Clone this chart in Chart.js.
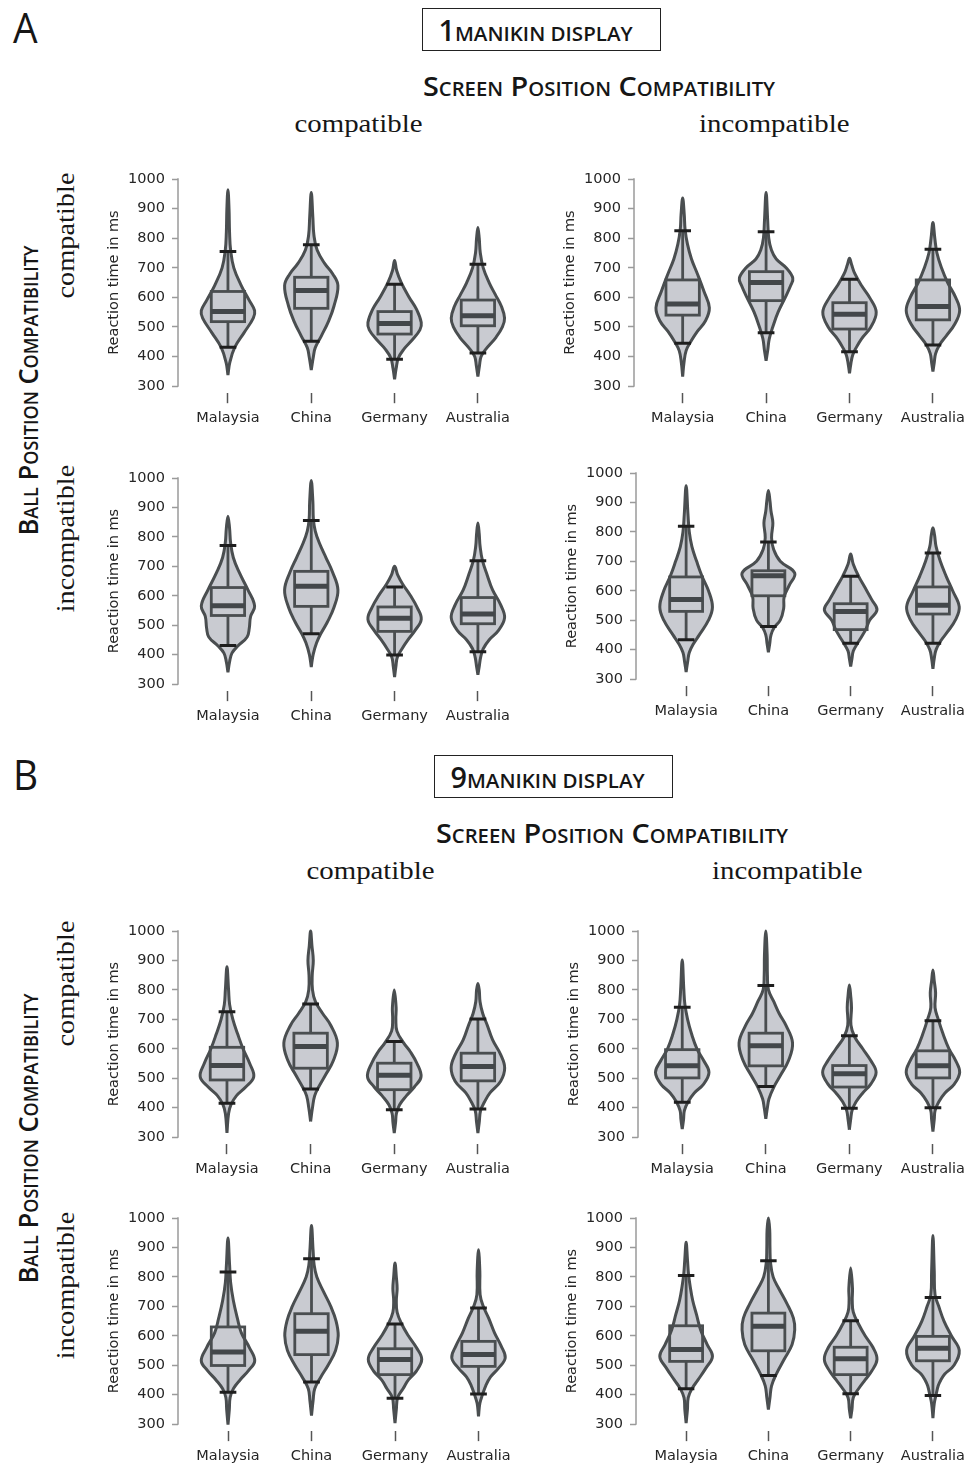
<!DOCTYPE html>
<html>
<head>
<meta charset="utf-8">
<script src="https://cdn.jsdelivr.net/npm/chart.js@4.4.1/dist/chart.umd.min.js"></script>
<style>
  html, body { margin: 0; padding: 0; background: #fff; overflow: hidden; }
  #page { position: relative; width: 973px; height: 1464px; }
  canvas { position: absolute; }
  .txt { position: absolute; white-space: nowrap; line-height: 1; color: #161616; }
  .box { position: absolute; border: 1.5px solid #222; box-sizing: border-box; }
</style>
</head>
<body>
<div id="page"></div>
<script>
// ---- data ----
const categories = ["Malaysia", "China", "Germany", "Australia"];
const yTickValues = [300, 400, 500, 600, 700, 800, 900, 1000];

// panel order: A1 A2 A3 A4 B1 B2 B3 B4 (top-left, top-right, bottom-left, bottom-right)
const whiskerHigh = [
  [755, 778, 644, 712],
  [825, 822, 661, 763],
  [771, 856, 630, 719],
  [819, 766, 649, 728],
  [726, 752, 625, 701],
  [741, 815, 644, 695],
  [817, 862, 640, 694],
  [805, 855, 651, 730]
];
const q3 = [
  [620, 668, 552, 591],
  [659, 687, 582, 659],
  [628, 683, 562, 594],
  [647, 668, 556, 613],
  [605, 653, 551, 585],
  [597, 653, 543, 593],
  [630, 675, 556, 581],
  [634, 677, 561, 598]
];
const medians = [
  [552, 623, 512, 538],
  [578, 650, 543, 569],
  [566, 632, 524, 538],
  [570, 651, 530, 551],
  [543, 608, 510, 540],
  [542, 610, 515, 542],
  [545, 615, 519, 536],
  [553, 632, 522, 558]
];
const q1 = [
  [518, 563, 476, 504],
  [540, 589, 493, 524],
  [533, 564, 479, 505],
  [530, 583, 468, 521],
  [494, 534, 461, 491],
  [501, 542, 470, 501],
  [499, 536, 468, 496],
  [513, 549, 468, 515]
];
const whiskerLow = [
  [431, 452, 391, 412],
  [445, 480, 416, 439],
  [431, 471, 399, 410],
  [434, 479, 422, 422],
  [415, 463, 393, 395],
  [418, 472, 398, 400],
  [408, 443, 388, 402],
  [420, 465, 403, 397]
];

// violin outlines: [reaction time, relative density]
const violinA1 = [
  [[337,0],[380,0.07],[430,0.25],[480,0.6],[530,0.95],[555,1],[590,0.8],[640,0.5],[700,0.22],[760,0.1],[820,0.06],[900,0.04],[964,0]],
  [[354,0],[400,0.08],[430,0.15],[470,0.38],[520,0.65],[570,0.85],[640,1],[680,0.8],[715,0.5],[760,0.22],[810,0.1],[870,0.06],[955,0]],
  [[323,0],[360,0.06],[395,0.14],[425,0.35],[455,0.65],[490,0.95],[515,1],[560,0.82],[600,0.55],[650,0.25],[690,0.08],[725,0]],
  [[332,0],[370,0.06],[400,0.12],[425,0.3],[465,0.68],[500,0.92],[530,1],[570,0.88],[610,0.65],[650,0.42],[700,0.2],[750,0.09],[800,0.05],[836,0]]
];
const violinA2 = [
  [[332,0],[380,0.05],[420,0.13],[450,0.3],[485,0.55],[520,0.85],[565,1],[620,0.8],[680,0.55],[730,0.33],[780,0.18],[830,0.09],[880,0.06],[936,0]],
  [[386,0],[420,0.06],[460,0.12],[500,0.25],[550,0.45],[600,0.72],[640,0.92],[665,1],[700,0.75],[730,0.38],[760,0.2],[800,0.1],[860,0.06],[955,0]],
  [[343,0],[375,0.05],[405,0.12],[430,0.25],[460,0.45],[500,0.8],[550,1],[600,0.75],[640,0.45],[680,0.2],[710,0.08],[732,0]],
  [[349,0],[380,0.05],[410,0.1],[440,0.25],[470,0.5],[510,0.82],[555,1],[600,0.85],[650,0.55],[700,0.32],[750,0.15],[800,0.07],[853,0]]
];
const violinA3 = [
  [[340,0],[375,0.06],[405,0.15],[430,0.38],[460,0.72],[490,0.8],[530,0.85],[565,1],[620,0.75],[680,0.42],[730,0.2],[780,0.1],[830,0.06],[870,0]],
  [[358,0],[400,0.07],[440,0.2],[470,0.35],[510,0.6],[560,0.85],[620,1],[680,0.8],[730,0.55],[780,0.3],[820,0.15],[860,0.08],[920,0.06],[992,0]],
  [[324,0],[360,0.05],[390,0.1],[420,0.28],[450,0.5],[480,0.75],[520,1],[560,0.85],[600,0.6],[640,0.3],[670,0.12],[700,0]],
  [[332,0],[360,0.05],[390,0.1],[420,0.2],[450,0.42],[480,0.75],[525,1],[570,0.85],[620,0.55],[670,0.35],[720,0.17],[770,0.08],[810,0.05],[847,0]]
];
const violinA4 = [
  [[324,0],[360,0.06],[390,0.12],[420,0.28],[450,0.5],[500,0.85],[545,1],[600,0.85],[650,0.6],[700,0.4],[750,0.22],[800,0.12],[860,0.07],[957,0]],
  [[391,0],[420,0.05],[450,0.1],[475,0.22],[500,0.45],[540,0.58],[580,0.6],[620,0.8],[660,1],[700,0.45],[740,0.2],[780,0.12],[830,0.17],[870,0.1],[905,0.06],[941,0]],
  [[343,0],[370,0.05],[395,0.1],[420,0.25],[445,0.42],[470,0.58],[500,0.72],[535,1],[570,0.8],[610,0.55],[650,0.3],[690,0.1],[725,0]],
  [[335,0],[370,0.05],[400,0.12],[430,0.3],[460,0.55],[500,0.85],[545,1],[600,0.75],[650,0.5],[700,0.28],[750,0.12],[790,0.06],[814,0]]
];
const violinB1 = [
  [[314,0],[380,0.06],[410,0.15],[440,0.35],[470,0.7],[505,1],[550,0.85],[600,0.6],[650,0.4],[700,0.22],[750,0.1],[800,0.06],[879,0]],
  [[353,0],[400,0.07],[440,0.15],[470,0.3],[510,0.55],[560,0.85],[620,1],[680,0.75],[720,0.45],[760,0.18],[800,0.07],[850,0.06],[900,0.1],[950,0.05],[1000,0]],
  [[314,0],[350,0.05],[380,0.08],[410,0.2],[440,0.45],[470,0.75],[505,1],[550,0.85],[590,0.6],[620,0.35],[660,0.1],[700,0.06],[740,0.07],[800,0]],
  [[314,0],[350,0.05],[390,0.1],[420,0.25],[450,0.45],[490,0.85],[535,1],[580,0.85],[630,0.55],[680,0.35],[720,0.18],[760,0.08],[800,0.05],[822,0]]
];
const violinB2 = [
  [[327,0],[360,0.05],[390,0.08],[420,0.22],[450,0.45],[480,0.8],[520,1],[560,0.8],[600,0.55],[650,0.35],[700,0.2],[750,0.1],[800,0.06],[902,0]],
  [[362,0],[400,0.06],[430,0.12],[470,0.3],[510,0.55],[560,0.85],[620,1],[680,0.75],[720,0.5],[760,0.3],[800,0.1],[850,0.06],[920,0.05],[1000,0]],
  [[325,0],[360,0.05],[390,0.1],[420,0.25],[450,0.5],[480,0.8],[520,1],[560,0.8],[600,0.5],[640,0.2],[680,0.06],[740,0.08],[780,0.05],[817,0]],
  [[319,0],[360,0.05],[390,0.08],[420,0.22],[450,0.45],[480,0.8],[520,1],[560,0.85],[600,0.6],[650,0.38],[700,0.2],[740,0.08],[790,0.1],[830,0.05],[868,0]]
];
const violinB3 = [
  [[298,0],[350,0.05],[390,0.08],[420,0.2],[450,0.45],[480,0.75],[515,1],[560,0.8],[610,0.5],[660,0.35],[720,0.2],[780,0.1],[840,0.06],[932,0]],
  [[329,0],[380,0.06],[420,0.12],[460,0.35],[500,0.62],[550,0.9],[600,1],[650,0.92],[700,0.72],[750,0.45],[800,0.2],[840,0.1],[890,0.06],[975,0]],
  [[303,0],[350,0.05],[390,0.1],[420,0.3],[450,0.5],[480,0.8],[520,1],[560,0.8],[600,0.5],[640,0.25],[680,0.08],[720,0.05],[760,0.08],[800,0.05],[847,0]],
  [[326,0],[370,0.05],[400,0.15],[430,0.27],[460,0.45],[490,0.75],[525,1],[565,0.85],[610,0.6],[660,0.38],[700,0.18],[740,0.06],[820,0.05],[892,0]]
];
const violinB4 = [
  [[303,0],[350,0.05],[390,0.08],[420,0.22],[450,0.45],[490,0.75],[530,1],[570,0.8],[620,0.55],[670,0.4],[720,0.25],[770,0.15],[810,0.09],[860,0.05],[918,0]],
  [[349,0],[390,0.06],[430,0.12],[470,0.3],[520,0.6],[570,0.9],[620,1],[660,0.95],[710,0.7],[760,0.4],[800,0.18],[850,0.08],[900,0.06],[960,0.05],[1000,0]],
  [[320,0],[350,0.05],[390,0.1],[420,0.3],[450,0.55],[480,0.8],[520,1],[560,0.85],[600,0.55],[640,0.3],[680,0.1],[720,0.06],[760,0.07],[830,0]],
  [[320,0],[370,0.05],[400,0.12],[430,0.2],[450,0.3],[470,0.45],[500,0.8],[550,1],[600,0.7],[650,0.42],[700,0.22],[740,0.08],[820,0.05],[941,0]]
];
const violins = [violinA1, violinA2, violinA3, violinA4, violinB1, violinB2, violinB3, violinB4];

// ---- layout (page pixels) ----
const panels = [
  { axisX: 178, y1000: 179,  y300: 386,  cat0: 228, step: 83.4 },
  { axisX: 634, y1000: 179,  y300: 386,  cat0: 683, step: 84 },
  { axisX: 178, y1000: 478,  y300: 684,  cat0: 228, step: 83.4 },
  { axisX: 636, y1000: 473,  y300: 679,  cat0: 687, step: 83.7 },
  { axisX: 178, y1000: 931,  y300: 1137, cat0: 227, step: 83.7 },
  { axisX: 638, y1000: 931,  y300: 1137, cat0: 683, step: 85 },
  { axisX: 178, y1000: 1218, y300: 1424, cat0: 228, step: 83.5 },
  { axisX: 636, y1000: 1218, y300: 1424, cat0: 687, step: 83.7 }
];

const page = document.getElementById("page");
const Y_MIN = 276;
const Y_MAX = 1024;
const HALF_VIOLIN = 0.32;
const HALF_BOX = 0.2;
const HALF_CAP = 0.1;
const STROKE = "#4a4e50";
const FILL = "#c9cbd1";
const TICK_FONT = { family: "DejaVu Sans", size: 14.5 };

function boxPlugin(p) {
  return {
    id: "boxes" + p,
    beforeDatasetsDraw(chart) {
      const { ctx, chartArea, scales: { y } } = chart;
      ctx.save();
      ctx.strokeStyle = "#9a9a9a";
      ctx.lineWidth = 1.5;
      ctx.beginPath();
      ctx.moveTo(chartArea.left, y.getPixelForValue(300) + 0.75);
      ctx.lineTo(chartArea.left, y.getPixelForValue(1000) - 0.75);
      ctx.stroke();
      ctx.restore();
    },
    afterDatasetsDraw(chart) {
      const { ctx, scales: { x, y } } = chart;
      ctx.save();
      ctx.lineCap = "butt";
      categories.forEach((c, i) => {
        const xc = x.getPixelForValue(i);
        const xl = x.getPixelForValue(i - HALF_BOX), xr = x.getPixelForValue(i + HALF_BOX);
        const yq1 = y.getPixelForValue(q1[p][i]), yq3 = y.getPixelForValue(q3[p][i]);
        const ylo = y.getPixelForValue(whiskerLow[p][i]), yhi = y.getPixelForValue(whiskerHigh[p][i]);
        ctx.strokeStyle = STROKE;
        ctx.lineWidth = 2.8;
        ctx.beginPath();
        ctx.moveTo(xc, ylo); ctx.lineTo(xc, yq1);
        ctx.moveTo(xc, yq3); ctx.lineTo(xc, yhi);
        ctx.stroke();
        ctx.strokeRect(xl, yq3, xr - xl, yq1 - yq3);
        ctx.lineWidth = 5;
        ctx.strokeStyle = "#43474a";
        const ym = y.getPixelForValue(medians[p][i]);
        ctx.beginPath();
        ctx.moveTo(xl, ym); ctx.lineTo(xr, ym);
        ctx.stroke();
        ctx.lineWidth = 3;
        ctx.strokeStyle = "#1e1e1e";
        const cl = x.getPixelForValue(i - HALF_CAP), cr = x.getPixelForValue(i + HALF_CAP);
        ctx.beginPath();
        ctx.moveTo(cl, ylo); ctx.lineTo(cr, ylo);
        ctx.moveTo(cl, yhi); ctx.lineTo(cr, yhi);
        ctx.stroke();
      });
      ctx.restore();
    }
  };
}

function makePanel(g, p) {
  const pxPerMs = (g.y300 - g.y1000) / 700;
  const chartH = (Y_MAX - Y_MIN) * pxPerMs;
  const topExtra = (Y_MAX - 1000) * pxPerMs;
  const xMin = -(g.cat0 - g.axisX) / g.step;
  const xMax = Math.min(3.45, (971 - g.cat0) / g.step);
  const chartW = (xMax - xMin) * g.step;
  // top padding must exceed the label overhang Chart.js reserves (half label height + tick padding)
  const padTop = 17, yW = 80, xH = 38;
  const W = Math.ceil(yW + chartW), H = Math.ceil(padTop + chartH + xH);

  const canvas = document.createElement("canvas");
  canvas.width = W; canvas.height = H;
  canvas.style.left = (g.axisX - yW) + "px";
  canvas.style.top = (g.y1000 - topExtra - padTop) + "px";
  canvas.style.width = W + "px"; canvas.style.height = H + "px";
  page.appendChild(canvas);

  const datasets = violins[p].map((shape, i) => {
    const right = shape.map(([v, d]) => ({ x: i + d * HALF_VIOLIN, y: v }));
    const left = shape.slice(0, -1).reverse().map(([v, d]) => ({ x: i - d * HALF_VIOLIN, y: v }));
    return {
      label: categories[i],
      data: right.concat(left),
      borderColor: STROKE,
      backgroundColor: FILL,
      borderWidth: 3,
      fill: "shape",
      tension: 0.4,
      pointRadius: 0
    };
  });

  new Chart(canvas, {
    type: "line",
    data: { datasets },
    options: {
      responsive: false,
      animation: false,
      layout: { padding: { top: padTop, left: 0, right: W - yW - chartW, bottom: H - padTop - chartH - xH } },
      plugins: { legend: { display: false }, tooltip: { enabled: false } },
      scales: {
        x: {
          type: "linear",
          min: xMin,
          max: xMax,
          afterBuildTicks: s => { s.ticks = categories.map((c, i) => ({ value: i })); },
          afterFit: s => { s.height = xH; },
          ticks: {
            callback: v => categories[v],
            color: "#262626",
            font: TICK_FONT,
            padding: 6,
            autoSkip: false,
            maxRotation: 0
          },
          grid: { drawOnChartArea: false, color: "#555", tickLength: 10, tickWidth: 1.5 },
          border: { display: false }
        },
        y: {
          min: Y_MIN,
          max: Y_MAX,
          afterBuildTicks: s => { s.ticks = yTickValues.map(v => ({ value: v })); },
          afterFit: s => { s.width = yW; },
          ticks: { color: "#262626", font: TICK_FONT, padding: 7, callback: v => String(v) },
          grid: { drawOnChartArea: false, color: "#9a9a9a", tickLength: 6, tickWidth: 1.5 },
          border: { display: false },
          title: {
            display: true,
            text: "Reaction time in ms",
            color: "#262626",
            font: TICK_FONT,
            padding: { top: 8, bottom: 0 }
          }
        }
      }
    },
    plugins: [boxPlugin(p)]
  });
}

panels.forEach(makePanel);

// ---- headings ----
function addText(html, o) {
  const el = document.createElement("div");
  el.className = "txt";
  el.innerHTML = html;
  el.style.fontFamily = o.family;
  el.style.fontSize = o.size + "px";
  el.style.fontWeight = o.weight || 400;
  if (o.variant) el.style.fontVariant = o.variant;
  page.appendChild(el);
  const w = el.offsetWidth, h = el.offsetHeight;
  el.style.left = (o.cx - w / 2) + "px";
  el.style.top = (o.cy - h / 2) + "px";
  el.style.transform = (o.rot ? "rotate(-90deg) " : "") + "scaleX(" + (o.w / w) + ")";
}
function addBox(left, top, w, h) {
  const el = document.createElement("div");
  el.className = "box";
  Object.assign(el.style, { left: left + "px", top: top + "px", width: w + "px", height: h + "px" });
  page.appendChild(el);
}

const SANS = "'Open Sans', 'DejaVu Sans', sans-serif";
const SERIF = "'Liberation Serif', 'DejaVu Serif', serif";

function section(letter, n, o) {
  addText(letter, { cx: 25, cy: o.top + 27, w: 25, size: 42, family: SANS });
  addBox(o.boxLeft, o.top + 8, 239, 43);
  addText('<span style="font-size:28px">' + n + "</span>MANIKIN DISPLAY",
    { cx: o.boxLeft + 113, cy: o.top + 30, w: 194, size: 20, weight: 600, family: SANS });
  addText("Screen Position Compatibility",
    { cx: o.screenX, cy: o.top + 85, w: 352, size: 27, weight: 600, variant: "small-caps", family: SANS });
  addText("compatible", { cx: o.compX, cy: o.top + 123, w: 128, size: 25, family: SERIF });
  addText("incompatible", { cx: o.incX, cy: o.top + 123, w: 151, size: 25, family: SERIF });
  addText("Ball Position Compatibility",
    { cx: 28, cy: o.ballY, w: 290, size: 27, weight: 600, variant: "small-caps", family: SANS, rot: true });
  addText("compatible", { cx: 65, cy: o.rowC, w: 126, size: 25, family: SERIF, rot: true });
  addText("incompatible", { cx: 65, cy: o.rowI, w: 148, size: 25, family: SERIF, rot: true });
}

section("A", 1, { top: 0, boxLeft: 422, screenX: 599, compX: 358, incX: 774, ballY: 390, rowC: 235, rowI: 538 });
section("B", 9, { top: 747, boxLeft: 434, screenX: 612, compX: 370, incX: 787, ballY: 1138, rowC: 983, rowI: 1285 });
</script>
</body>
</html>
